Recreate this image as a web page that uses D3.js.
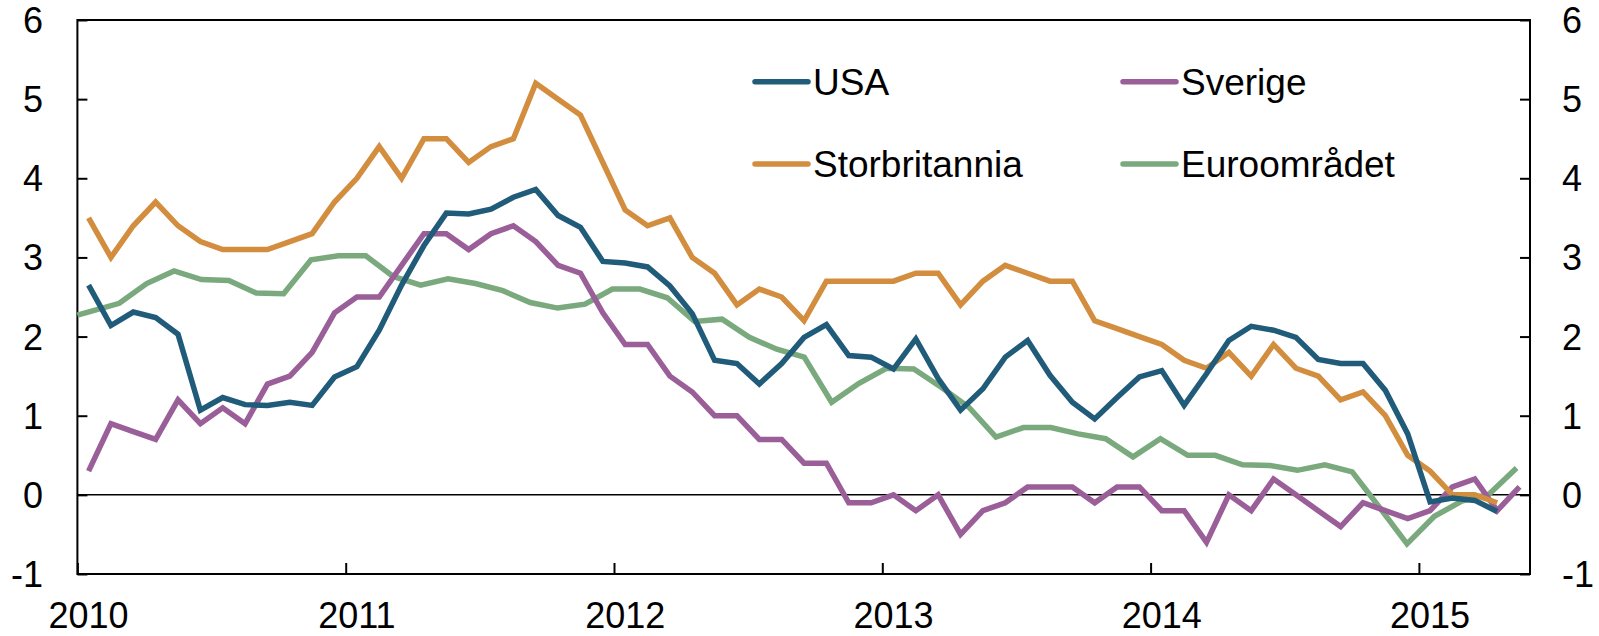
<!DOCTYPE html>
<html>
<head>
<meta charset="utf-8">
<script src="https://cdn.jsdelivr.net/npm/d3@7"></script>
<style>
  body { margin: 0; background: #fff; }
  svg { display: block; font-family: "Liberation Sans", Arial, sans-serif; }
</style>
</head>
<body>
<svg width="1599" height="636"></svg>
<script>
// Monthly series, Jan 2010 onwards
const usa = [2.65, 2.14, 2.31, 2.24, 2.03, 1.07, 1.23, 1.14, 1.13, 1.17, 1.13, 1.49,
  1.62, 2.08, 2.65, 3.15, 3.56, 3.55, 3.61, 3.76, 3.86, 3.53, 3.38, 2.95,
  2.93, 2.88, 2.64, 2.29, 1.70, 1.66, 1.40, 1.66, 1.99, 2.15, 1.76, 1.74,
  1.59, 1.97, 1.47, 1.07, 1.34, 1.74, 1.95, 1.51, 1.17, 0.96, 1.23, 1.49,
  1.57, 1.13, 1.53, 1.95, 2.13, 2.08, 1.99, 1.71, 1.66, 1.66, 1.32, 0.77,
  -0.09, -0.04, -0.07, -0.21];

const storbritannia = [3.5, 3.0, 3.4, 3.7, 3.4, 3.2, 3.1, 3.1, 3.1, 3.2, 3.3, 3.7,
  4.0, 4.4, 4.0, 4.5, 4.5, 4.2, 4.4, 4.5, 5.2, 5.0, 4.8, 4.2,
  3.6, 3.4, 3.5, 3.0, 2.8, 2.4, 2.6, 2.5, 2.2, 2.7, 2.7, 2.7,
  2.7, 2.8, 2.8, 2.4, 2.7, 2.9, 2.8, 2.7, 2.7, 2.2, 2.1, 2.0,
  1.9, 1.7, 1.6, 1.8, 1.5, 1.9, 1.6, 1.5, 1.2, 1.3, 1.0, 0.5,
  0.3, 0.0, 0.0, -0.1];

const sverige = [0.3, 0.9, 0.8, 0.7, 1.2, 0.9, 1.1, 0.9, 1.4, 1.5, 1.8, 2.3,
  2.5, 2.5, 2.9, 3.3, 3.3, 3.1, 3.3, 3.4, 3.2, 2.9, 2.8, 2.3,
  1.9, 1.9, 1.5, 1.3, 1.0, 1.0, 0.7, 0.7, 0.4, 0.4, -0.1, -0.1,
  0.0, -0.2, 0.0, -0.5, -0.2, -0.1, 0.1, 0.1, 0.1, -0.1, 0.1, 0.1,
  -0.2, -0.2, -0.6, 0.0, -0.2, 0.2, 0.0, -0.2, -0.4, -0.1, -0.2, -0.3,
  -0.2, 0.1, 0.2, -0.2, 0.1];

// Euro area series, own time points (decimal years)
const euroFirst = { t: 2010.0, v: 2.27 };
const euroStart = 2010.156, euroStep = 0.10212;
const euroomradet = [2.42, 2.67, 2.83, 2.72, 2.71, 2.55, 2.54, 2.97, 3.02, 3.02,
  2.76, 2.65, 2.73, 2.67, 2.58, 2.43, 2.36, 2.41, 2.60, 2.60,
  2.49, 2.19, 2.22, 1.99, 1.84, 1.74, 1.17, 1.41, 1.60, 1.59,
  1.36, 1.11, 0.73, 0.85, 0.85, 0.77, 0.71, 0.48, 0.71, 0.50,
  0.50, 0.38, 0.37, 0.31, 0.38, 0.29, -0.16, -0.62, -0.27, -0.08,
  0.01, 0.34];

const yTicks = [-1, 0, 1, 2, 3, 4, 5, 6];
const xYears = [2010, 2011, 2012, 2013, 2014, 2015];

const colors = { usa: "#215b7a", uk: "#d38d3f", se: "#9a5e98", euro: "#7aa97d" };

const svg = d3.select("svg");
const margin = { top: 20, right: 69, bottom: 62, left: 77.4 };
const width = 1599, height = 636;

const x = d3.scaleLinear()
  .domain([2010, 2010 + (width - margin.right - margin.left) / 268.3])
  .range([margin.left, width - margin.right]);
const y = d3.scaleLinear()
  .domain([-1, 6])
  .range([height - margin.bottom, margin.top]);

const monthly = arr => arr.map((v, i) => ({ t: 2010 + (i + 0.5) / 12, v }));
const euroData = [euroFirst].concat(euroomradet.map((v, k) => ({ t: euroStart + k * euroStep, v })));

// frame
svg.append("rect")
  .attr("x", x.range()[0]).attr("y", y(6))
  .attr("width", x.range()[1] - x.range()[0])
  .attr("height", y(-1) - y(6))
  .attr("fill", "none").attr("stroke", "#000").attr("stroke-width", 2);

// zero line
svg.append("line")
  .attr("x1", x.range()[0]).attr("x2", x.range()[1])
  .attr("y1", y(0)).attr("y2", y(0))
  .attr("stroke", "#000").attr("stroke-width", 1.5);

// axes
const fontSize = "36px";
const left = svg.append("g")
  .attr("transform", `translate(${margin.left},0)`)
  .call(d3.axisRight(y).tickValues(yTicks).tickSize(10).tickFormat(""));
const right = svg.append("g")
  .attr("transform", `translate(${width - margin.right},0)`)
  .call(d3.axisLeft(y).tickValues(yTicks).tickSize(10).tickFormat(""));
const bottom = svg.append("g")
  .attr("transform", `translate(0,${height - margin.bottom})`)
  .call(d3.axisTop(x).tickValues(xYears).tickSize(11).tickFormat(""));
[left, right, bottom].forEach(g => {
  g.select(".domain").remove();
  g.selectAll(".tick line").attr("stroke", "#000").attr("stroke-width", 2);
});

// tick labels
svg.append("g").selectAll("text")
  .data(yTicks).enter().append("text")
  .attr("x", 43).attr("y", d => y(d)).attr("dy", "0.36em")
  .attr("text-anchor", "end").style("font-size", fontSize)
  .text(d => d);
svg.append("g").selectAll("text")
  .data(yTicks).enter().append("text")
  .attr("x", 1562).attr("y", d => y(d)).attr("dy", "0.36em")
  .attr("text-anchor", "start").style("font-size", fontSize)
  .text(d => d);
svg.append("g").selectAll("text")
  .data(xYears).enter().append("text")
  .attr("x", d => x(d + 1 / 24)).attr("y", 628)
  .attr("text-anchor", "middle").style("font-size", fontSize)
  .text(d => d);

// lines
const line = d3.line().x(d => x(d.t)).y(d => y(d.v));
const series = [
  { key: "euro", data: euroData },
  { key: "se", data: monthly(sverige) },
  { key: "uk", data: monthly(storbritannia) },
  { key: "usa", data: monthly(usa) }
];
svg.append("g").selectAll("path")
  .data(series).enter().append("path")
  .attr("d", d => line(d.data))
  .attr("fill", "none")
  .attr("stroke", d => colors[d.key])
  .attr("stroke-width", 5.5)
  .attr("stroke-linejoin", "miter");

// legend
const legend = [
  { label: "USA", key: "usa", x: 755, y: 81.7 },
  { label: "Sverige", key: "se", x: 1123, y: 81.7 },
  { label: "Storbritannia", key: "uk", x: 755, y: 164 },
  { label: "Euroområdet", key: "euro", x: 1123, y: 164 }
];
const lg = svg.append("g").selectAll("g").data(legend).enter().append("g");
lg.append("line")
  .attr("x1", d => d.x).attr("x2", d => d.x + 53)
  .attr("y1", d => d.y).attr("y2", d => d.y)
  .attr("stroke", d => colors[d.key]).attr("stroke-width", 5.5)
  .attr("stroke-linecap", "round");
lg.append("text")
  .attr("x", d => d.x + 58).attr("y", d => d.y).attr("dy", "0.36em")
  .style("font-size", "37px")
  .text(d => d.label);
</script>
</body>
</html>
